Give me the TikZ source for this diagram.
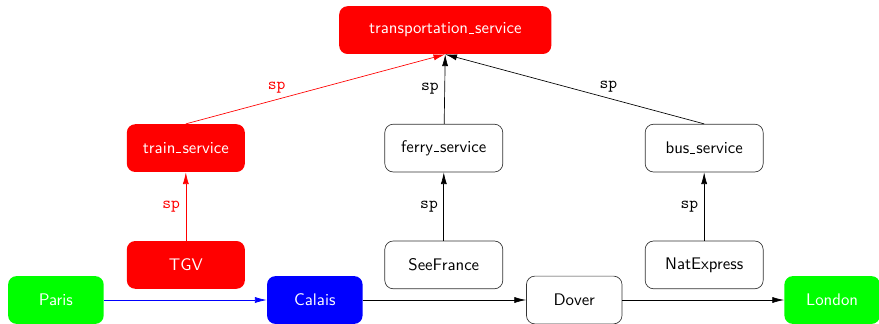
\documentclass[tikz,border=0pt]{standalone}
\usepackage{tikz}
\usetikzlibrary{calc,arrows.meta}

% short baseline bar between the words
\newcommand{\usc}{\leavevmode\kern.06em\vbox{\hrule height.6pt width.3em}\kern.06em}

\begin{document}
\begin{tikzpicture}[font=\sffamily,
    >={Latex[length=7pt,width=3.6pt]},
    box/.style={rounded corners=5pt,minimum height=1cm,align=center},
    plain/.style={box,draw=black!80,fill=white},
    red box/.style={box,fill=red,text=white},
    city/.style={box,minimum width=2cm,text=white},
    lbl/.style={font=\ttfamily}]
                      \useasboundingbox (0,0) rectangle (18.4,6.78);
                      % top level
                      \node[red box,minimum width=4.44cm](ts)at(9.32,6.15){transportation\usc service};
                      % services
                      \node[red box,minimum width=2.47cm](tr)at(3.89,3.68){train\usc service};
                      \node[plain,minimum width=2.47cm](fe)at(9.29,3.68){ferry\usc service};
                      \node[plain,minimum width=2.47cm](bu)at(14.74,3.68){bus\usc service};
                      % carriers
                      \node[red box,minimum width=2.47cm](tgv)at(3.89,1.235){TGV};
                      \node[plain,minimum width=2.47cm](sf)at(9.29,1.235){SeeFrance};
                      \node[plain,minimum width=2.47cm](ne)at(14.74,1.235){NatExpress};
                      % cities
                      \node[city,fill=green](pa)at(1.17,0.5){Paris};
                      \node[city,fill=blue](ca)at(6.59,0.5){Calais};
                      \node[city,plain,text=black](do)at(12.02,0.5){Dover};
                      \node[city,fill=green](lo)at(17.42,0.5){London};
                      \draw [->,red] (tr.north) -- node[lbl,above,pos=0.35]{sp} (ts.south);
                      \draw [->] (fe) -- node[lbl,left]{sp} (ts.south);
                      \draw [->] (bu.north) -- node[lbl,above,pos=0.37]{sp} (ts.south);
                      \draw [->,red] (tgv) -- node[lbl,left]{sp} (tr);
                      \draw [->] (sf) -- node[lbl,left]{sp} (fe);
                      \draw [->] (ne) -- node[lbl,left]{sp} (bu);
                      \draw [->,blue] (pa) -- (ca);
                      \draw [->] (ca) -- (do);
                      \draw [->] (do) -- (lo);
\end{tikzpicture}
\end{document}
